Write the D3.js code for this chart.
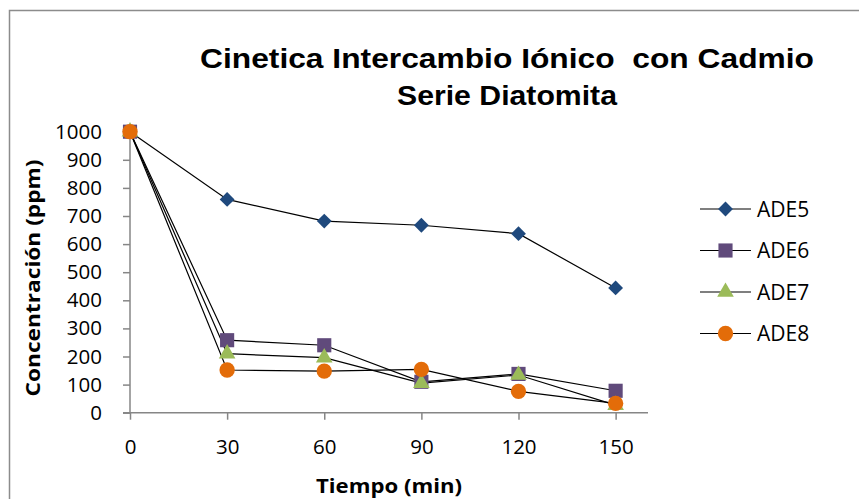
<!DOCTYPE html>
<html>
<head>
<meta charset="utf-8">
<script src="https://cdn.jsdelivr.net/npm/d3@7"></script>
<style>
  html, body { margin: 0; padding: 0; background: #fff; }
  svg { display: block; }
</style>
</head>
<body>
<svg id="chart" width="859" height="499"></svg>
<script>
// Time points (min)
const tiempos = [0, 30, 60, 90, 120, 150];
// Cadmium concentration (ppm) for each sample
const ade5 = [1000, 759, 682, 667, 637, 444];
const ade6 = [1000, 258, 240, 110, 138, 78];
const ade7 = [1000, 210, 196, 105, 134, 27];
const ade8 = [1000, 152, 148, 154, 76, 33];
const seriesNames = ["ADE5", "ADE6", "ADE7", "ADE8"];
const xTicks = [0, 30, 60, 90, 120, 150];
const yTicks = [0, 100, 200, 300, 400, 500, 600, 700, 800, 900, 1000];
const titleLines = ["Cinetica Intercambio Iónico  con Cadmio", "Serie Diatomita"];

const series = [
  { name: seriesNames[0], values: ade5, color: "#1f497d", shape: "diamond" },
  { name: seriesNames[1], values: ade6, color: "#604a7b", shape: "square" },
  { name: seriesNames[2], values: ade7, color: "#9bbb59", shape: "triangle" },
  { name: seriesNames[3], values: ade8, color: "#e36c09", shape: "circle" }
];

const svg = d3.select("#chart");
const axisColor = "#868686";
const labelFont = "'Open Sans', 'DejaVu Sans', sans-serif";

// Outer chart frame
svg.append("rect")
  .attr("x", 9.5).attr("y", 10.5)
  .attr("width", 900).attr("height", 600)
  .attr("fill", "#fff").attr("stroke", "#8c8c8c").attr("stroke-width", 1.5);

const x = d3.scaleLinear().domain([0, 160]).range([130, 648]);
const y = d3.scaleLinear().domain([0, 1000]).range([412.7, 131.7]);

// Title (two lines, stretched to the chart's wide title block)
const titleWidths = [614, 220];
const title = svg.append("text")
  .attr("text-anchor", "middle")
  .attr("font-family", "'Liberation Sans', Arial, sans-serif")
  .attr("font-weight", "bold")
  .attr("font-size", 27.5)
  .attr("fill", "#000")
  .style("white-space", "pre")
  .attr("xml:space", "preserve");
title.selectAll("tspan").data(titleLines).join("tspan")
  .attr("x", 507)
  .attr("y", (d, i) => 68 + i * 37)
  .attr("textLength", (d, i) => titleWidths[i])
  .attr("lengthAdjust", "spacingAndGlyphs")
  .text(d => d);

// Y axis
const yAxis = svg.append("g")
  .attr("transform", `translate(${x(0)},0)`)
  .call(d3.axisLeft(y).tickValues(yTicks).tickFormat(d3.format("d")).tickSize(7).tickPadding(21));
// X axis
const xAxis = svg.append("g")
  .attr("transform", `translate(0,${y(0)})`)
  .call(d3.axisBottom(x).tickValues(xTicks).tickFormat(d3.format("d")).tickSize(7).tickPadding(20));

[xAxis, yAxis].forEach(g => {
  g.select(".domain").attr("stroke", axisColor).attr("stroke-width", 1.5);
  g.selectAll(".tick line").attr("stroke", axisColor).attr("stroke-width", 1.5);
  g.selectAll(".tick text")
    .attr("fill", "#000")
    .attr("font-family", labelFont)
    .attr("font-size", 20.5);
});
// extend the x baseline to the left of the y axis, like the tick marks
xAxis.select(".domain").attr("d", `M${x(0) - 7},0H${x(160)}`);
yAxis.select(".domain").attr("d", `M0,${y(0)}V${y(1000)}`);

// Axis titles
svg.append("text")
  .attr("x", 389).attr("y", 493)
  .attr("text-anchor", "middle")
  .attr("font-family", labelFont)
  .attr("font-weight", "bold")
  .attr("font-size", 20)
  .attr("textLength", 146)
  .attr("lengthAdjust", "spacingAndGlyphs")
  .text("Tiempo (min)");
svg.append("text")
  .attr("transform", "translate(40,278) rotate(-90)")
  .attr("text-anchor", "middle")
  .attr("font-family", labelFont)
  .attr("font-weight", "bold")
  .attr("font-size", 20)
  .attr("textLength", 237)
  .attr("lengthAdjust", "spacingAndGlyphs")
  .text("Concentración (ppm)");

// Marker shapes: square-rotated diamond, square, triangle, circle
const squareDiamond = {
  draw(ctx, size) {
    const r = Math.sqrt(size / 2);
    ctx.moveTo(0, -r); ctx.lineTo(r, 0); ctx.lineTo(0, r); ctx.lineTo(-r, 0); ctx.closePath();
  }
};
const symbolTypes = {
  diamond: squareDiamond,
  square: d3.symbolSquare,
  triangle: d3.symbolTriangle,
  circle: d3.symbolCircle
};
const symbolSizes = { diamond: 110, square: 200, triangle: 120, circle: 185 };
function symbolPath(shape) {
  return d3.symbol().type(symbolTypes[shape]).size(symbolSizes[shape])();
}

const line = d3.line().x((d, i) => x(tiempos[i])).y(d => y(d));

// Lines first, then markers on top
series.forEach(s => {
  svg.append("path")
    .datum(s.values)
    .attr("d", line)
    .attr("fill", "none")
    .attr("stroke", "#000")
    .attr("stroke-width", 1.2);
});
series.forEach(s => {
  svg.append("g").selectAll("path")
    .data(s.values).join("path")
    .attr("d", symbolPath(s.shape))
    .attr("transform", (d, i) => `translate(${x(tiempos[i])},${y(d)})`)
    .attr("fill", s.color);
});

// Legend
const legend = svg.append("g");
series.forEach((s, i) => {
  const cy = 209 + i * 41.5;
  legend.append("line")
    .attr("x1", 700).attr("x2", 751)
    .attr("y1", cy).attr("y2", cy)
    .attr("stroke", "#000").attr("stroke-width", 1.2);
  legend.append("path")
    .attr("d", symbolPath(s.shape))
    .attr("transform", `translate(725.5,${cy})`)
    .attr("fill", s.color);
  legend.append("text")
    .attr("x", 757).attr("y", cy + 7.5)
    .attr("font-family", labelFont)
    .attr("font-size", 21)
    .text(s.name);
});
</script>
</body>
</html>
